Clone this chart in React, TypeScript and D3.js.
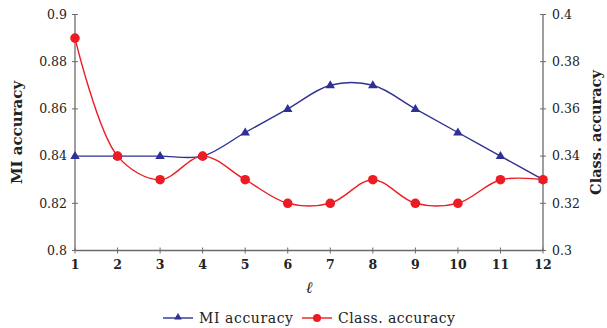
import React from "react";
import * as d3 from "d3";

const ells = [1, 2, 3, 4, 5, 6, 7, 8, 9, 10, 11, 12];
const miAccuracy = [0.84, 0.84, 0.84, 0.84, 0.85, 0.86, 0.87, 0.87, 0.86, 0.85, 0.84, 0.83];
const classAccuracy = [0.39, 0.34, 0.33, 0.34, 0.33, 0.32, 0.32, 0.33, 0.32, 0.32, 0.33, 0.33];
const leftTicks = [0.8, 0.82, 0.84, 0.86, 0.88, 0.9];
const rightTicks = [0.3, 0.32, 0.34, 0.36, 0.38, 0.4];

const W = 607, H = 328;
const L = 75, R = 543, T = 14.5, B = 250.5;
const BLUE = "#2e3192";
const RED = "#ed1c24";
const AX = "#6b6b6b";
const FONT = "DejaVu Serif";
const ts = { fontFamily: FONT };

export default function App() {
  const x = d3.scaleLinear().domain([1, 12]).range([L, R]);
  const yL = d3.scaleLinear().domain([0.8, 0.9]).range([B, T]);
  const yR = d3.scaleLinear().domain([0.3, 0.4]).range([B, T]);
  const curve = d3.curveCatmullRom.alpha(0.5);
  const miLine = d3.line<number>().x((_, i) => x(ells[i])).y((d) => yL(d)).curve(curve)(miAccuracy) || "";
  const clLine = d3.line<number>().x((_, i) => x(ells[i])).y((d) => yR(d)).curve(curve)(classAccuracy) || "";
  const tri = (cx: number, cy: number, s = 5) =>
    `M${cx},${cy - s}L${cx + s * 0.95},${cy + s * 0.6}L${cx - s * 0.95},${cy + s * 0.6}Z`;

  return (
    <svg width={W} height={H} style={{ position: "absolute", left: 0, top: 0 }}>
      <rect width={W} height={H} fill="white" />
      <line x1={L} x2={L} y1={T} y2={B} stroke={AX} strokeWidth={1.3} />
      <line x1={R} x2={R} y1={T} y2={B} stroke={AX} strokeWidth={1.3} />
      <line x1={L} x2={R} y1={B} y2={B} stroke={AX} strokeWidth={1.3} />
      {leftTicks.map((t) => (
        <g key={"l" + t}>
          <line x1={L - 3} x2={L + 3} y1={yL(t)} y2={yL(t)} stroke={AX} />
          <text x={L - 8} y={yL(t)} dy="0.35em" textAnchor="end" fontSize={12.5} fill="#222" style={ts}>
            {+t.toFixed(2)}
          </text>
        </g>
      ))}
      {rightTicks.map((t) => (
        <g key={"r" + t}>
          <line x1={R - 3} x2={R + 3} y1={yR(t)} y2={yR(t)} stroke={AX} />
          <text x={R + 9} y={yR(t)} dy="0.35em" textAnchor="start" fontSize={12.5} fill="#222" style={ts}>
            {+t.toFixed(2)}
          </text>
        </g>
      ))}
      {ells.map((e) => (
        <g key={"x" + e}>
          <line x1={x(e)} x2={x(e)} y1={B - 3} y2={B + 3} stroke={AX} />
          <text x={x(e)} y={B + 18} textAnchor="middle" fontSize={12.5} fontWeight="bold" fill="#222" style={ts}>
            {e}
          </text>
        </g>
      ))}
      <text transform={`translate(22,${(T + B) / 2}) rotate(-90)`} textAnchor="middle" fontSize={15} fontWeight="bold" fill="#222" style={ts}>
        MI accuracy
      </text>
      <text transform={`translate(${W - 6},${(T + B) / 2}) rotate(-90)`} textAnchor="middle" fontSize={14.5} fontWeight="bold" fill="#222" style={ts}>
        Class. accuracy
      </text>
      <text x={(L + R) / 2} y={293} textAnchor="middle" fontSize={16} fontStyle="italic" fill="#222" style={ts}>
        ℓ
      </text>
      <path d={miLine} fill="none" stroke={BLUE} strokeWidth={1.4} />
      {miAccuracy.map((v, i) => (
        <path key={"m" + i} d={tri(x(ells[i]), yL(v))} fill={BLUE} />
      ))}
      <path d={clLine} fill="none" stroke={RED} strokeWidth={1.4} />
      {classAccuracy.map((v, i) => (
        <circle key={"c" + i} cx={x(ells[i])} cy={yR(v)} r={4.8} fill={RED} />
      ))}
      <g>
        <line x1={163} x2={193} y1={318} y2={318} stroke={BLUE} strokeWidth={1.4} />
        <path d={tri(178, 317, 4)} fill={BLUE} />
        <text x={199} y={318} dy="0.35em" fontSize={14} fill="#222" style={ts} textLength={94}>MI accuracy</text>
        <line x1={302} x2={332} y1={318} y2={318} stroke={RED} strokeWidth={1.4} />
        <circle cx={317} cy={318} r={4} fill={RED} />
        <text x={338} y={318} dy="0.35em" fontSize={14} fill="#222" style={ts} textLength={117}>Class. accuracy</text>
      </g>
    </svg>
  );
}
